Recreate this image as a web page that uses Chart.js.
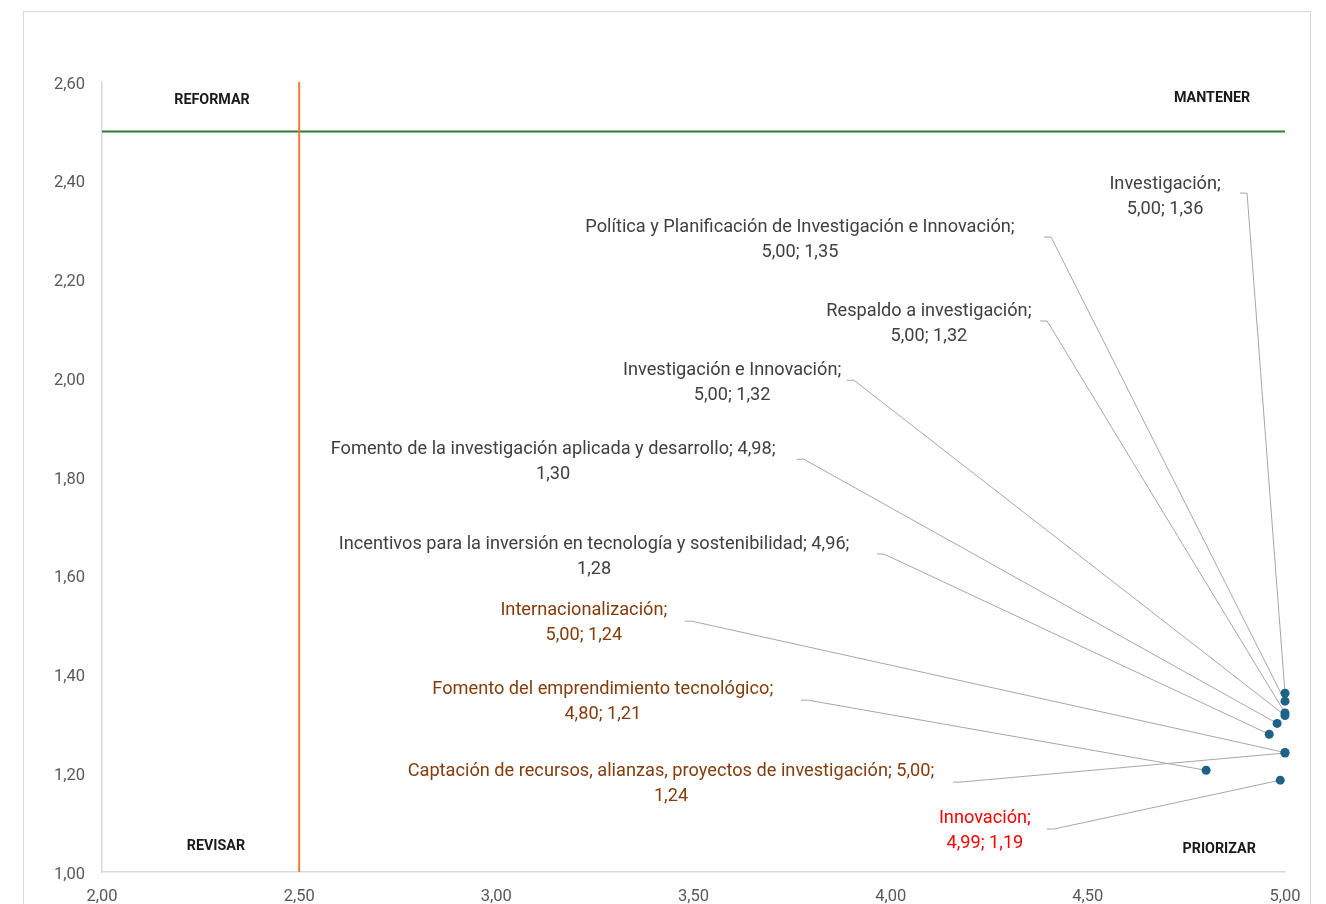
<!DOCTYPE html>
<html>
<head>
<meta charset="utf-8">
<script src="https://cdn.jsdelivr.net/npm/chart.js@4/dist/chart.umd.min.js"></script>
<style>
  html, body { margin: 0; padding: 0; background: #ffffff; }
  #wrap { width: 1326px; height: 904px; position: relative; }
</style>
</head>
<body>
<div id="wrap"><canvas id="c" width="1326" height="904"></canvas></div>
<script>
// Items evaluated on the importance (x) / performance (y) matrix
const names = [
  'Investigación',
  'Política y Planificación de Investigación e Innovación',
  'Respaldo a investigación',
  'Investigación e Innovación',
  'Fomento de la investigación aplicada y desarrollo',
  'Incentivos para la inversión en tecnología y sostenibilidad',
  'Internacionalización',
  'Fomento del emprendimiento tecnológico',
  'Captación de recursos, alianzas, proyectos de investigación',
  'Innovación'
];
const xValues = [5.00, 5.00, 5.00, 5.00, 4.98, 4.96, 5.00, 4.80, 5.00, 4.988];
const yValues = [1.362, 1.346, 1.322, 1.317, 1.301, 1.279, 1.242, 1.206, 1.241, 1.186];

// Axis ticks
const xTicks = [2.00, 2.50, 3.00, 3.50, 4.00, 4.50, 5.00];
const yTicks = [1.00, 1.20, 1.40, 1.60, 1.80, 2.00, 2.20, 2.40, 2.60];

// Quadrant thresholds and names
const xThreshold = 2.5;
const yThreshold = 2.5;
const quadrantNames = ['REFORMAR', 'MANTENER', 'REVISAR', 'PRIORIZAR'];

// Label placement (data units): text centre and leader-line start
const labelCenters = [
  [4.696, 2.367], [3.770, 2.280], [4.097, 2.110], [3.598, 1.990], [3.144, 1.830],
  [3.248, 1.638], [3.222, 1.504], [3.270, 1.344], [3.443, 1.178], [4.239, 1.083]
];
const leaderStarts = [
  [4.886, 2.375], [4.389, 2.286], [4.379, 2.116], [3.889, 1.996], [3.762, 1.836],
  [3.965, 1.644], [3.478, 1.508], [3.773, 1.348], [4.158, 1.182], [4.396, 1.087]
];
// 'name' breaks after the item name, 'x' breaks after the x value
const labelBreaks = ['name', 'name', 'name', 'name', 'x', 'x', 'name', 'name', 'x', 'name'];
const labelColors = ['#404040', '#404040', '#404040', '#404040', '#404040', '#404040',
                     '#843c0c', '#843c0c', '#843c0c', '#ff0000'];
const quadrantPositions = [[2.279, 2.562], [4.815, 2.566], [2.289, 1.051], [4.833, 1.045]];

const fmt = v => v.toFixed(2).replace('.', ',');

const points = xValues.map((x, i) => ({ x, y: yValues[i] }));

const FONT_FAMILY = 'Roboto, "Noto Sans", sans-serif';
const LABEL_FONT = '18.2px ' + FONT_FAMILY;

const matrixPlugin = {
  id: 'matrix',
  beforeDraw(chart) {
    const ctx = chart.ctx;
    ctx.save();
    ctx.strokeStyle = '#d9d9d9';
    ctx.lineWidth = 1;
    ctx.strokeRect(23.5, 11.5, 1287, 920);
    ctx.restore();
  },
  beforeDatasetsDraw(chart) {
    const { ctx, chartArea: a, scales: { x, y } } = chart;
    ctx.save();
    // threshold lines
    ctx.lineWidth = 2;
    ctx.strokeStyle = '#2e7d32';
    const gy = y.getPixelForValue(yThreshold);
    ctx.beginPath(); ctx.moveTo(a.left, gy); ctx.lineTo(a.right, gy); ctx.stroke();
    ctx.strokeStyle = '#ed7d31';
    const ox = x.getPixelForValue(xThreshold);
    ctx.beginPath(); ctx.moveTo(ox, a.top); ctx.lineTo(ox, a.bottom); ctx.stroke();

    // leader lines
    ctx.lineWidth = 1;
    ctx.strokeStyle = '#a6a6a6';
    leaderStarts.forEach((s, i) => {
      const sx = x.getPixelForValue(s[0]);
      const sy = y.getPixelForValue(s[1]);
      const px = x.getPixelForValue(xValues[i]);
      const py = y.getPixelForValue(yValues[i]);
      ctx.beginPath();
      ctx.moveTo(sx, sy);
      ctx.lineTo(sx + 7, sy);
      ctx.lineTo(px, py);
      ctx.stroke();
    });
    ctx.restore();
  },
  afterDatasetsDraw(chart) {
    const { ctx, scales: { x, y } } = chart;
    ctx.save();
    ctx.textAlign = 'center';
    ctx.textBaseline = 'middle';
    // data labels
    ctx.font = LABEL_FONT;
    names.forEach((n, i) => {
      const cx = x.getPixelForValue(labelCenters[i][0]);
      const cy = y.getPixelForValue(labelCenters[i][1]);
      let lines;
      if (labelBreaks[i] === 'x') {
        lines = [n + '; ' + fmt(xValues[i]) + ';', fmt(yValues[i])];
      } else {
        lines = [n + ';', fmt(xValues[i]) + '; ' + fmt(yValues[i])];
      }
      ctx.fillStyle = labelColors[i];
      ctx.fillText(lines[0], cx, cy - 12.5);
      ctx.fillText(lines[1], cx, cy + 12.5);
    });
    // quadrant names
    ctx.font = 'bold 14.3px ' + FONT_FAMILY;
    ctx.fillStyle = '#1a1a1a';
    quadrantNames.forEach((q, i) => {
      ctx.fillText(q, x.getPixelForValue(quadrantPositions[i][0]), y.getPixelForValue(quadrantPositions[i][1]));
    });
    ctx.restore();
  }
};

new Chart(document.getElementById('c'), {
  type: 'scatter',
  data: {
    datasets: [{
      data: points,
      clip: false,
      pointRadius: 4.5,
      pointHoverRadius: 4.5,
      pointBackgroundColor: '#1f6288',
      pointBorderColor: '#1f6288',
      pointBorderWidth: 0
    }]
  },
  options: {
    responsive: false,
    devicePixelRatio: 1,
    animation: false,
    events: [],
    layout: { padding: { left: 23, right: 41, top: 82, bottom: 0 } },
    plugins: { legend: { display: false }, tooltip: { enabled: false } },
    scales: {
      x: {
        type: 'linear',
        min: 2, max: 5,
        afterBuildTicks: axis => { axis.ticks = xTicks.map(v => ({ value: v })); },
        afterFit: axis => { axis.height = 32; },
        grid: { display: false, drawTicks: false },
        border: { display: true, color: '#d9d9d9', width: 1.5 },
        ticks: {
          callback: v => fmt(v),
          color: '#595959',
          font: { family: FONT_FAMILY, size: 16.5 },
          padding: 15,
          maxRotation: 0
        }
      },
      y: {
        type: 'linear',
        min: 1, max: 2.6,
        afterBuildTicks: axis => { axis.ticks = yTicks.map(v => ({ value: v })); },
        afterFit: axis => { axis.width = 79; },
        grid: { display: false, drawTicks: false },
        border: { display: true, color: '#d9d9d9', width: 1.5 },
        ticks: {
          callback: v => fmt(v),
          color: '#595959',
          font: { family: FONT_FAMILY, size: 16.5 },
          padding: 17,
          labelOffset: 2.5
        }
      }
    }
  },
  plugins: [matrixPlugin]
});
</script>
</body>
</html>
